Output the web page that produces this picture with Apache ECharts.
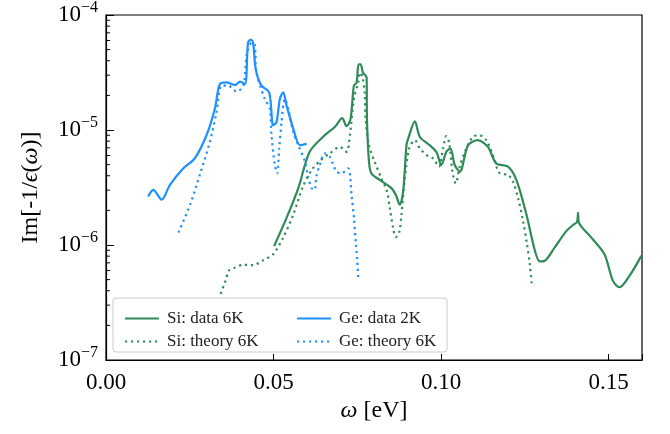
<!DOCTYPE html>
<html>
<head>
<meta charset="UTF-8">
<title>Im[-1/eps(omega)]</title>
<style>
html, body { margin: 0; padding: 0; background: #fff; }
#main { width: 670px; height: 434px; }
</style>
<script src="https://cdn.jsdelivr.net/npm/echarts@6/dist/echarts.min.js"></script>
</head>
<body>
<div id="main"></div>
<script>
// [omega (eV), Im[-1/eps]]
var siData = [
  [0.0502, 9.8e-7], [0.0539, 1.72e-6], [0.0574, 3.12e-6], [0.0608, 6.46e-6], [0.0653, 9.0e-6],
  [0.0683, 1.06e-5], [0.0705, 1.27e-5], [0.0718, 1.08e-5], [0.0730, 1.25e-5], [0.0740, 2.43e-5],
  [0.0748, 2.59e-5], [0.0754, 3.73e-5], [0.0760, 3.73e-5], [0.0767, 3.16e-5], [0.0778, 2.86e-5],
  [0.0779, 1.25e-5], [0.0785, 5.3e-6], [0.0792, 4.2e-6], [0.0817, 3.68e-6], [0.0852, 3.12e-6],
  [0.0865, 2.73e-6], [0.0877, 2.24e-6], [0.0887, 2.92e-6], [0.0897, 7.38e-6], [0.0902, 8.41e-6],
  [0.0922, 1.19e-5], [0.0937, 8.7e-6], [0.0966, 7.38e-6], [0.0986, 6.46e-6], [0.1001, 4.96e-6],
  [0.1016, 6.46e-6], [0.1028, 6.9e-6], [0.1041, 4.96e-6], [0.1056, 4.35e-6], [0.1081, 7.38e-6],
  [0.1110, 8.15e-6], [0.1140, 7.13e-6], [0.1165, 5.12e-6], [0.1200, 4.8e-6], [0.1225, 3.68e-6],
  [0.1255, 1.84e-6], [0.1280, 9.0e-7], [0.1295, 7.2e-7], [0.1310, 7.3e-7], [0.1339, 9.48e-7],
  [0.1374, 1.32e-6], [0.1395, 1.5e-6], [0.1406, 1.58e-6], [0.1409, 1.9e-6], [0.1412, 1.56e-6],
  [0.1449, 1.16e-6], [0.1488, 8.32e-7], [0.1513, 4.9e-7], [0.1533, 4.29e-7], [0.1563, 5.41e-7],
  [0.1598, 8.04e-7]
];
var siTheory = [
  [0.0342, 3.76e-7], [0.0355, 4.73e-7], [0.0368, 6.05e-7], [0.0382, 6.3e-7], [0.0410, 6.73e-7],
  [0.0439, 6.68e-7], [0.0469, 7.38e-7], [0.0499, 8.32e-7], [0.0529, 1.16e-6], [0.0559, 1.84e-6],
  [0.0588, 3.23e-6], [0.0614, 4.5e-6], [0.0638, 5.37e-6], [0.0668, 6.25e-6], [0.0698, 7.13e-6],
  [0.0718, 6.46e-6], [0.0728, 9.0e-6], [0.0740, 1.86e-5], [0.0753, 2.59e-5], [0.0758, 3.16e-5],
  [0.0766, 2.86e-5], [0.0772, 2.13e-5], [0.0775, 1.25e-5], [0.0785, 7.38e-6], [0.0802, 5.3e-6],
  [0.0822, 3.8e-6], [0.0839, 2.92e-6], [0.0847, 2.1e-6], [0.0857, 1.41e-6], [0.0865, 1.17e-6],
  [0.0875, 1.28e-6], [0.0882, 1.84e-6], [0.0892, 3.8e-6], [0.0905, 6.9e-6], [0.0922, 8.15e-6],
  [0.0937, 6.9e-6], [0.0957, 6.05e-6], [0.0976, 5.66e-6], [0.0994, 4.8e-6], [0.1006, 6.9e-6],
  [0.1016, 8.87e-6], [0.1024, 7.78e-6], [0.1034, 4.35e-6], [0.1044, 3.44e-6], [0.1056, 4.8e-6],
  [0.1071, 6.46e-6], [0.1095, 8.7e-6], [0.1115, 9.0e-6], [0.1135, 8.15e-6], [0.1155, 6.05e-6],
  [0.1175, 4.2e-6], [0.1200, 4.07e-6], [0.1215, 3.56e-6], [0.1230, 2.56e-6], [0.1245, 1.61e-6],
  [0.1257, 1.01e-6], [0.1265, 6.82e-7], [0.1271, 4.44e-7]
];
var geData = [
  [0.0126, 2.64e-6], [0.0141, 3.02e-6], [0.0166, 2.48e-6], [0.0191, 3.34e-6], [0.0231, 4.64e-6],
  [0.0265, 5.66e-6], [0.0300, 9.0e-6], [0.0325, 1.53e-5], [0.0340, 2.51e-5], [0.0360, 2.59e-5],
  [0.0385, 2.46e-5], [0.0400, 2.63e-5], [0.0415, 2.51e-5], [0.0424, 5.74e-5], [0.0432, 6.12e-5],
  [0.0439, 5.74e-5], [0.0447, 3.38e-5], [0.0464, 2.43e-5], [0.0487, 2.13e-5], [0.0499, 1.1e-5],
  [0.0509, 1.17e-5], [0.0519, 1.86e-5], [0.0529, 2.13e-5], [0.0539, 1.63e-5], [0.0559, 1.03e-5],
  [0.0579, 7.38e-6], [0.0599, 7.57e-6]
];
var geTheory = [
  [0.0216, 1.28e-6], [0.0251, 2.24e-6], [0.0280, 4.07e-6], [0.0310, 7.88e-6], [0.0330, 1.43e-5],
  [0.0345, 2.43e-5], [0.0365, 2.43e-5], [0.0390, 2.16e-5], [0.0410, 2.43e-5], [0.0421, 4.7e-5],
  [0.0435, 5.74e-5], [0.0444, 5.55e-5], [0.0449, 3.16e-5], [0.0474, 1.86e-5], [0.0489, 1.53e-5],
  [0.0494, 9.0e-6], [0.0504, 4.96e-6], [0.0511, 4.2e-6], [0.0517, 6.9e-6], [0.0524, 1.17e-5],
  [0.0534, 1.86e-5], [0.0544, 1.53e-5], [0.0559, 9.6e-6], [0.0574, 7.38e-6], [0.0594, 5.3e-6],
  [0.0603, 3.93e-6], [0.0614, 3.12e-6], [0.0623, 3.02e-6], [0.0628, 3.93e-6], [0.0638, 4.96e-6],
  [0.0653, 6.25e-6], [0.0668, 5.85e-6], [0.0688, 4.35e-6], [0.0703, 4.2e-6], [0.0723, 4.64e-6],
  [0.0733, 2.73e-6], [0.0740, 1.72e-6], [0.0746, 1.01e-6], [0.0750, 7.27e-7], [0.0753, 5.23e-7]
];
var xTicks = [0, 0.05, 0.10, 0.15];
var yExponents = [-7, -6, -5, -4];

var green = '#2e8b57';
var blue = '#1e90ff';
var font = 'Liberation Serif';
var dots = [2.2, 3.8];

var chart = echarts.init(document.getElementById('main'));

function lineSeries(name, data, color, dotted) {
  return {
    name: name, type: 'line', data: data,
    showSymbol: false, symbol: 'none', smooth: 0.3,
    lineStyle: { color: color, width: 2.2, type: dotted ? dots : 'solid' },
    itemStyle: { color: color }, z: 2
  };
}

var legendBase = {
  orient: 'vertical',
  top: 305,
  itemWidth: 34, itemHeight: 12, itemGap: 6,
  itemStyle: { opacity: 0 },
  textStyle: { fontFamily: font, fontSize: 17, color: '#222', padding: [0, 0, 0, 3] }
};

var option = {
  animation: false,
  backgroundColor: '#fff',
  grid: {
    left: 106, right: 28, top: 12, bottom: 74,
    show: true, borderColor: '#000', borderWidth: 1.2
  },
  xAxis: {
    type: 'value',
    min: 0, max: 0.16, interval: 0.05,
    name: '{i|ω} [eV]',
    nameLocation: 'middle',
    nameGap: 38,
    nameTextStyle: {
      fontFamily: font, fontSize: 24, color: '#000',
      rich: { i: { fontFamily: font, fontStyle: 'italic', fontSize: 24 } }
    },
    axisLine: { lineStyle: { color: '#000', width: 1.2 } },
    axisTick: { inside: true, length: 6, lineStyle: { color: '#000', width: 1 } },
    splitLine: { show: false },
    axisLabel: {
      fontFamily: font, fontSize: 23, color: '#000', margin: 11,
      formatter: function (v) {
        for (var k = 0; k < xTicks.length; k++) {
          if (Math.abs(v - xTicks[k]) < 1e-9) return xTicks[k].toFixed(2);
        }
        return '';
      }
    }
  },
  yAxis: {
    type: 'log',
    logBase: 10,
    min: 1e-7, max: 1e-4,
    name: 'Im[-1/{i|ϵ}({i|ω})]',
    nameLocation: 'middle',
    nameGap: 63,
    nameRotate: 90,
    nameTextStyle: {
      fontFamily: font, fontSize: 24, color: '#000',
      rich: { i: { fontFamily: font, fontStyle: 'italic', fontSize: 24 } }
    },
    axisLine: { lineStyle: { color: '#000', width: 1.2 } },
    axisTick: { inside: true, length: 8, lineStyle: { color: '#000', width: 1 } },
    splitLine: { show: false },
    axisLabel: {
      color: '#000', margin: 8,
      formatter: function (v) {
        var e = Math.round(Math.log10(v));
        if (yExponents.indexOf(e) < 0) return '';
        return '{b|10}{s|−' + (-e) + '}';
      },
      rich: {
        b: { fontFamily: font, fontSize: 23, color: '#000' },
        s: { fontFamily: font, fontSize: 16, color: '#000', padding: [0, 0, 14, 0] }
      }
    }
  },
  legend: [
    Object.assign({}, legendBase, { left: 119, data: ['Si: data 6K', 'Si: theory 6K'] }),
    Object.assign({}, legendBase, { left: 291, data: ['Ge: data 2K', 'Ge: theory 6K'] })
  ],
  series: [
    lineSeries('Si: data 6K', siData, green, false),
    lineSeries('Si: theory 6K', siTheory, green, true),
    lineSeries('Ge: data 2K', geData, blue, false),
    lineSeries('Ge: theory 6K', geTheory, blue, true)
  ]
};

chart.setOption(option);

// legend frame and log minor ticks
var gfx = [{
  type: 'rect', z: 3, silent: true,
  shape: { x: 113, y: 298, width: 334, height: 54, r: 3 },
  style: { fill: 'rgba(255,255,255,0.85)', stroke: '#cccccc', lineWidth: 1 }
}];
var x0 = chart.convertToPixel({ xAxisIndex: 0 }, 0);
for (var d = -7; d < -4; d++) {
  for (var k = 2; k <= 9; k++) {
    var py = chart.convertToPixel({ yAxisIndex: 0 }, k * Math.pow(10, d));
    gfx.push({
      type: 'line', z: 5, silent: true,
      shape: { x1: x0, y1: py, x2: x0 + 4, y2: py },
      style: { stroke: '#000', lineWidth: 1 }
    });
  }
}
chart.setOption({ graphic: gfx });
</script>
</body>
</html>
